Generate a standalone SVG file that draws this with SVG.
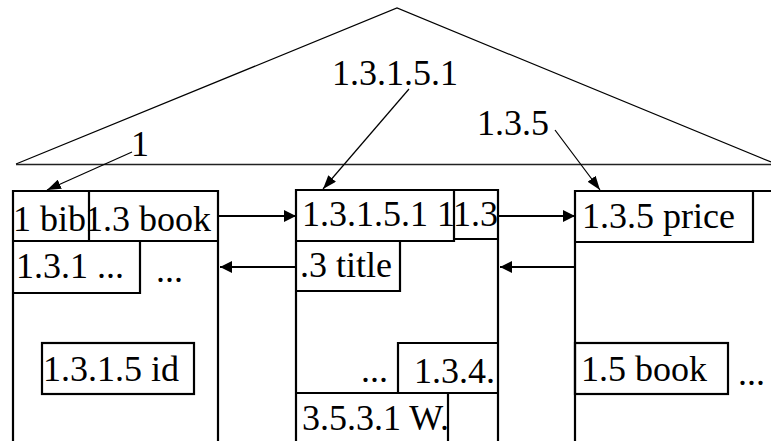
<svg xmlns="http://www.w3.org/2000/svg" width="771" height="441" viewBox="0 0 771 441">
  <style>
    text { font-family: "Liberation Serif", "Times New Roman", serif; font-size: 36px; fill: #000; }
    .box { fill: none; stroke: #000; stroke-width: 2.2; }
    .tree { fill: none; stroke: #000; stroke-width: 1.2; }
    .link { fill: none; stroke: #000; stroke-width: 2.2; }
    .ptr { fill: none; stroke: #000; stroke-width: 1.2; }
  </style>
  <defs>
    <marker id="head" viewBox="0 0 12 12" refX="12" refY="6" markerWidth="12" markerHeight="12" markerUnits="userSpaceOnUse" orient="auto">
      <path d="M0,0 L12,6 L0,12 Z" fill="#000"/>
    </marker>
    <marker id="headThin" viewBox="0 0 14 10" refX="14" refY="5" markerWidth="14" markerHeight="10" markerUnits="userSpaceOnUse" orient="auto">
      <path d="M0,0 L14,5 L0,10 Z" fill="#000"/>
    </marker>
  </defs>

  <!-- index tree outline -->
  <g id="tree">
    <path class="tree" d="M16,164 L397,8 L771,162"/>
    <line x1="16" y1="164.5" x2="771" y2="164.5" stroke="#222" stroke-width="1.5"/>
  </g>

  <!-- page 1 -->
  <g id="page1">
    <path class="box" d="M13,441 V191 H218 V441"/>
    <line class="box" x1="13" y1="241" x2="218" y2="241"/>
    <line class="box" x1="89" y1="191" x2="89" y2="241"/>
    <path class="box" d="M13,293 H140 V241"/>
    <rect class="box" x="42" y="343" width="152" height="51"/>
    <text x="13" y="231">1 bib</text>
    <text x="85" y="231">1.3 book</text>
    <text x="16" y="278">1.3.1 ...</text>
    <text x="156" y="282">...</text>
    <text x="43" y="381">1.3.1.5 id</text>
  </g>

  <!-- page 2 -->
  <g id="page2">
    <path class="box" d="M296,441 V190 H498 V441"/>
    <path class="box" d="M296,241 H454 V190"/>
    <line class="box" x1="454" y1="239" x2="498" y2="239"/>
    <path class="box" d="M296,291 H400 V241"/>
    <path class="box" d="M398,393 V343 H498"/>
    <line class="box" x1="296" y1="393" x2="498" y2="393"/>
    <line class="box" x1="448" y1="393" x2="448" y2="441"/>
    <text x="302" y="226">1.3.1.5.1 1</text>
    <text x="453" y="226">1.3</text>
    <text x="300" y="277">.3 title</text>
    <text x="361" y="382">...</text>
    <text x="414" y="383">1.3.4.</text>
    <text x="302" y="430">3.5.3.1 W.</text>
  </g>

  <!-- page 3 -->
  <g id="page3">
    <path class="box" d="M575,441 V191 H771"/>
    <path class="box" d="M575,242 H753 V191"/>
    <rect class="box" x="575" y="343" width="153" height="51"/>
    <text x="582" y="228">1.3.5 price</text>
    <text x="581" y="381">1.5 book</text>
    <text x="738" y="385">...</text>
  </g>

  <!-- key labels -->
  <g id="key-1"><text x="131" y="156">1</text></g>
  <g id="key-1.3.1.5.1"><text x="332" y="85">1.3.1.5.1</text></g>
  <g id="key-1.3.5"><text x="477" y="135">1.3.5</text></g>

  <!-- connectors -->
  <g id="connectors">
    <line class="link" x1="218" y1="216" x2="296" y2="216" marker-end="url(#head)"/>
    <line class="link" x1="296" y1="267" x2="220" y2="267" marker-end="url(#head)"/>
    <line class="link" x1="498" y1="216" x2="575" y2="216" marker-end="url(#head)"/>
    <line class="link" x1="575" y1="267" x2="500" y2="267" marker-end="url(#head)"/>
    <line class="ptr" x1="132" y1="152" x2="47" y2="190" marker-end="url(#headThin)"/>
    <line class="ptr" x1="409" y1="89" x2="323" y2="189" marker-end="url(#headThin)"/>
    <line class="ptr" x1="555" y1="130" x2="600" y2="190" marker-end="url(#headThin)"/>
  </g>
</svg>
